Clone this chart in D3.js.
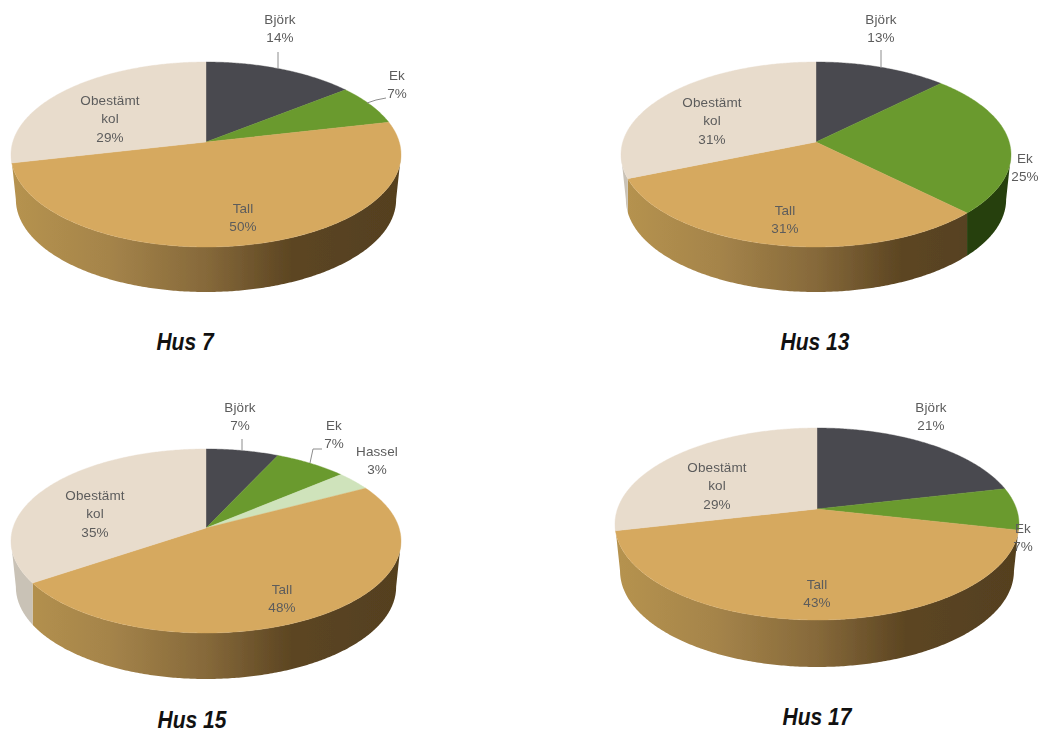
<!DOCTYPE html>
<html><head><meta charset="utf-8">
<style>html,body{margin:0;padding:0;background:#fff}svg{display:block}</style>
<script src="https://cdn.jsdelivr.net/npm/d3@7"></script>
</head><body><svg id="c" width="1043" height="734"></svg>
<script>
const titles = ["Hus 7","Hus 13","Hus 15","Hus 17"];
const categories = ["Björk","Ek","Hassel","Tall","Obestämt kol"];
const hus7  = [14.3, 7.1, 0, 50, 28.6];
const hus13 = [12.5, 25, 0, 31.25, 31.25];
const hus15 = [6.9, 6.9, 3.4, 48.3, 34.5];
const hus17 = [21.4, 7.1, 0, 42.9, 28.6];
const seriesValues = [hus7, hus13, hus15, hus17];

const topColors  = ["#4a4a4f","#6a9a2e","#cfe3bb","#d6a95f","#e8dccc"];
const wallColors = ["#2c2c30","#26400c","#a0b090",null,"#c9c2b6"];
const tallStops = [[0,"#b6934f"],[.25,"#a5844a"],[.5,"#86693a"],[.72,"#5c4522"],[1,"#54401f"]];

// Layout: apex of the pie and the perspective-distorted top ellipse
const layouts = [
  {cx:206, cy:142, rx:195, up:80, down:105, depth:45},
  {cx:816, cy:142, rx:195, up:80, down:105, depth:45},
  {cx:206, cy:528, rx:195, up:79, down:105, depth:46},
  {cx:817, cy:509, rx:202, up:81, down:111, depth:47}
];
const bottomScale = 0.975;
const titlePos = [[185,342],[815,342],[192,720],[817,717]];
const labelPos = [
  {0:[280,19],1:[397,75],3:[243,208],4:[110,100]},
  {0:[881,19],1:[1025,158],3:[785,210],4:[712,102]},
  {0:[240,407],1:[334,425],2:[377,451],3:[282,589],4:[95,495]},
  {0:[931,407],1:[1023,528],3:[817,584],4:[717,467]}
];
const leaders = [
  [[[278,68],[278,52]],[[367,103],[376,100],[386,98]]],
  [[[881,68],[881,50]]],
  [[[242,451],[242,439]],[[310,463],[313,449],[322,449]]],
  []
];

const svg = d3.select("#c");
const defs = svg.append("defs");
defs.append("filter").attr("id","soft").attr("x","-10%").attr("y","-10%").attr("width","120%").attr("height","120%")
  .append("feGaussianBlur").attr("stdDeviation",0.45);

const pie = d3.pie().sort(null).value(d=>d);
const line = d3.line().x(d=>d[0]).y(d=>d[1]);

seriesValues.forEach((vals,i)=>{
  const L = layouts[i];
  const p = (L.down-L.up)/(L.down+L.up);
  const b = L.down*(1-p);
  const a = L.rx*Math.sqrt(1-p*p);
  const proj = t => {
    const u=Math.sin(t), v=-Math.cos(t), d=1-p*v;
    return [L.cx+a*u/d, L.cy+b*v/d];
  };
  const arcPts = (t0,t1) => {
    const n=Math.max(2,Math.ceil(Math.abs(t1-t0)/0.01));
    return d3.range(n+1).map(k=>proj(t0+(t1-t0)*k/n));
  };
  const gi = defs.append("linearGradient").attr("id","tall"+i).attr("gradientUnits","userSpaceOnUse")
    .attr("x1",L.cx-L.rx).attr("x2",L.cx+L.rx).attr("y1",0).attr("y2",0);
  tallStops.forEach(s=>gi.append("stop").attr("offset",s[0]).attr("stop-color",s[1]));

  const group = svg.append("g").attr("filter","url(#soft)");
  const arcs = pie(vals);
  const tR = Math.acos(-p), tL = 2*Math.PI-tR;

  // Wall silhouette; slices are cut by vertical edges inside it
  const rim = arcPts(tR,tL);
  const rimBottom = rim.map(q=>[L.cx+(q[0]-L.cx)*bottomScale,q[1]+L.depth]).reverse();
  defs.append("clipPath").attr("id","wall"+i).append("path").attr("d",line(rim.concat(rimBottom))+"Z");
  const walls = group.append("g").attr("clip-path","url(#wall"+i+")");
  const yTop = L.cy-L.up, yBot = L.cy+L.down+L.depth+2;
  arcs.forEach(s=>{
    const t0=Math.max(s.startAngle,tR), t1=Math.min(s.endAngle,tL);
    if(s.value<=0||t1<=t0) return;
    const x1 = t0===tR ? L.cx+L.rx+2 : proj(t0)[0];
    const x0 = t1===tL ? L.cx-L.rx-2 : proj(t1)[0];
    walls.append("rect").attr("x",x0).attr("y",yTop).attr("width",x1-x0).attr("height",yBot-yTop)
      .attr("fill", s.index===3 ? "url(#tall"+i+")" : wallColors[s.index]);
  });

  arcs.forEach(s=>{
    if(s.value<=0) return;
    const pts=[[L.cx,L.cy]].concat(arcPts(s.startAngle,s.endAngle));
    group.append("path").attr("d",line(pts)+"Z").attr("fill",topColors[s.index])
      .attr("stroke",topColors[s.index]).attr("stroke-width",0.4);
  });

  leaders[i].forEach(l=>group.append("path").attr("d",line(l)).attr("fill","none")
    .attr("stroke","#8c8c8c").attr("stroke-width",1));

  arcs.forEach(s=>{
    if(s.value<=0) return;
    const pos=labelPos[i][s.index];
    const parts=categories[s.index].split(" ").concat([Math.round(s.value)+"%"]);
    parts.forEach((t,k)=>group.append("text").attr("x",pos[0]).attr("y",pos[1]+k*18.5)
      .attr("text-anchor","middle").attr("dominant-baseline","central")
      .attr("font-family","'Liberation Sans',Arial,sans-serif").attr("font-size",13.5)
      .attr("letter-spacing",0.1).attr("fill","#5c5c5c").text(t));
  });

  svg.append("text").attr("transform",`translate(${titlePos[i][0]},${titlePos[i][1]}) scale(0.875,1)`)
    .attr("text-anchor","middle").attr("dominant-baseline","central")
    .attr("font-family","'Liberation Sans',Arial,sans-serif").attr("font-size",24)
    .attr("font-weight","bold").attr("font-style","italic").attr("fill","#111").text(titles[i]);
});
</script></body></html>
